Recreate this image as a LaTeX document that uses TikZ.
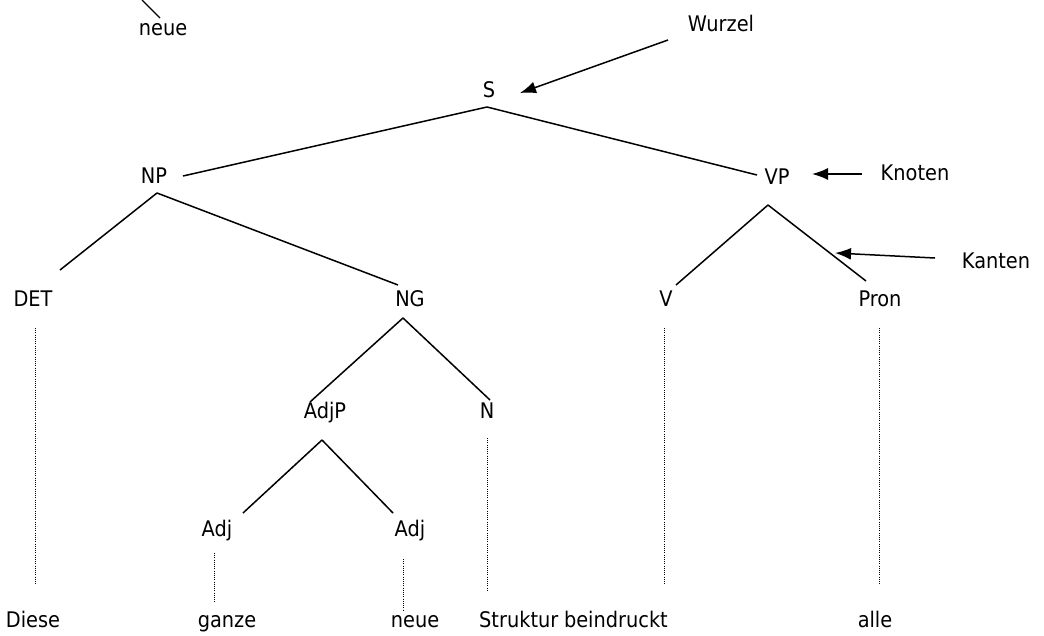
\documentclass[tikz,border=0pt]{standalone}
\usepackage{fontspec}
\setmainfont{DejaVu Sans}[FakeStretch=0.9]
\usetikzlibrary{arrows.meta}
\begin{document}
\begin{tikzpicture}[x=1pt,y=-1pt,
  lbl/.style={anchor=base,inner sep=0pt,font=\fontsize{21.5}{26}\selectfont},
  edge/.style={line width=1.5pt},
  dots/.style={line width=1pt,dash pattern=on 1pt off 1.2pt},
  pointer/.style={line width=1.5pt,-{Latex[length=16pt,width=12pt]}}]
\useasboundingbox (0,0) rectangle (1044,635);
% labels
\node[lbl] (neueTop) at (163,35) {neue};
\node[lbl] (wurzel) at (721,31) {Wurzel};
\node[lbl] (S) at (489,97) {S};
\node[lbl] (NP) at (154,183) {NP};
\node[lbl] (VP) at (777,184) {VP};
\node[lbl] (knoten) at (915,180) {Knoten};
\node[lbl] (kanten) at (996,268) {Kanten};
\node[lbl] (DET) at (33,306) {DET};
\node[lbl] (NG) at (410,306) {NG};
\node[lbl] (V) at (666,306) {V};
\node[lbl] (Pron) at (880,306) {Pron};
\node[lbl] (AdjP) at (325,418) {AdjP};
\node[lbl] (N) at (487,418) {N};
\node[lbl] (AdjL) at (217,536) {Adj};
\node[lbl] (AdjR) at (410,536) {Adj};
\node[lbl] (w1) at (33,627) {Diese};
\node[lbl] (w2) at (227,627) {ganze};
\node[lbl] (w3) at (415,627) {neue};
\node[lbl,anchor=base west] (w4) at (479,627) {Struktur};
\node[lbl,anchor=base east] (w5) at (668,627) {beindruckt};
\node[lbl] (w6) at (875,627) {alle};
% edge endpoints
\coordinate (Sb) at (487,107);
\coordinate (NPr) at (183,176);
\coordinate (VPl) at (757,175);
\coordinate (NPb) at (157,193);
\coordinate (DETt) at (60,270);
\coordinate (NGt) at (398,285);
\coordinate (VPb) at (768,205);
\coordinate (Vt) at (676,285);
\coordinate (Pront) at (866,281);
\coordinate (NGb) at (403,318);
\coordinate (AdjPt) at (310,402);
\coordinate (Nt) at (490,400);
\coordinate (AdjPb) at (322,440);
\coordinate (AdjLt) at (243,513);
\coordinate (AdjRt) at (393,513);
\coordinate (topfree) at (142,0);
\coordinate (neueT) at (160,18);
% tree edges
\draw[edge] (Sb) -- (NPr);
\draw[edge] (Sb) -- (VPl);
\draw[edge] (NPb) -- (DETt);
\draw[edge] (NPb) -- (NGt);
\draw[edge] (VPb) -- (Vt);
\draw[edge] (VPb) -- (Pront);
\draw[edge] (NGb) -- (AdjPt);
\draw[edge] (NGb) -- (Nt);
\draw[edge] (AdjPb) -- (AdjLt);
\draw[edge] (AdjPb) -- (AdjRt);
\draw[line width=1.2pt] (topfree) -- (neueT);
% dotted lexical links
\coordinate (d1a) at (35,328); \coordinate (d1b) at (35,585);
\coordinate (d2a) at (664,328); \coordinate (d2b) at (664,585);
\coordinate (d3a) at (879,328); \coordinate (d3b) at (879,585);
\coordinate (d4a) at (487,438); \coordinate (d4b) at (487,590);
\coordinate (d5a) at (214,553); \coordinate (d5b) at (214,603);
\coordinate (d6a) at (403,559); \coordinate (d6b) at (403,611);
\draw[dots] (d1a) -- (d1b);
\draw[dots] (d2a) -- (d2b);
\draw[dots] (d3a) -- (d3b);
\draw[dots] (d4a) -- (d4b);
\draw[dots] (d5a) -- (d5b);
\draw[dots] (d6a) -- (d6b);
% pointers
\coordinate (wTail) at (668,40); \coordinate (wTip) at (520,93);
\coordinate (kTail) at (862,174); \coordinate (kTip) at (812,174);
\coordinate (eTail) at (935,258); \coordinate (eTip) at (835,253);
\draw[pointer] (wTail) -- (wTip);
\draw[pointer] (kTail) -- (kTip);
\draw[pointer] (eTail) -- (eTip);
\end{tikzpicture}
\end{document}
